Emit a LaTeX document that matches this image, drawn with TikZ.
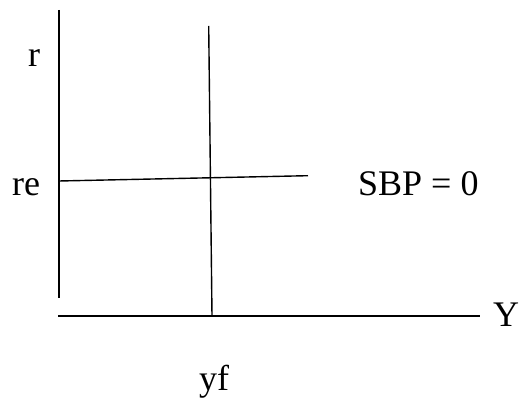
\documentclass[tikz,border=0pt]{standalone}
\usepackage{fontspec}
\setmainfont{Liberation Serif}
\usepackage{tikz}
\usetikzlibrary{positioning}

\tikzset{
  axisline/.style={line width=1.6pt, black},
  curveline/.style={line width=1.4pt, black},
  lbl/.style={font=\fontsize{36}{40}\selectfont, inner sep=0pt, anchor=base west}
}

\begin{document}
\begin{tikzpicture}[x=1pt, y=1pt]
                \useasboundingbox (0,0) rectangle (525,399);

                % Axes
                \coordinate (rtop) at (59,389);
                \coordinate (rbot) at (59,101);
                \coordinate (yleft) at (58,83);
                \coordinate (yright) at (480,83);
                \draw[axisline] (rtop) -- (rbot);
                \draw[axisline] (yleft) -- (yright);

                % Full employment output
                \coordinate (yftop) at (208.7,373);
                \coordinate (yfbot) at (212,83);
                \draw[curveline] (yftop) -- (yfbot);

                % SBP = 0
                \coordinate (sbpleft) at (59,218);
                \coordinate (sbpright) at (308,223.3);
                \draw[curveline] (sbpleft) -- (sbpright);

                % Labels
                \node[lbl] (r) at (28,332) {r};
                \node[lbl] (re) at (12,203) {re};
                \node[lbl] (sbp) at (358,203) {SBP = 0};
                \node[lbl] (Y) at (493,72) {Y};
                \node[lbl] (yf) at (199,9) {yf};
            \end{tikzpicture}
\end{document}
